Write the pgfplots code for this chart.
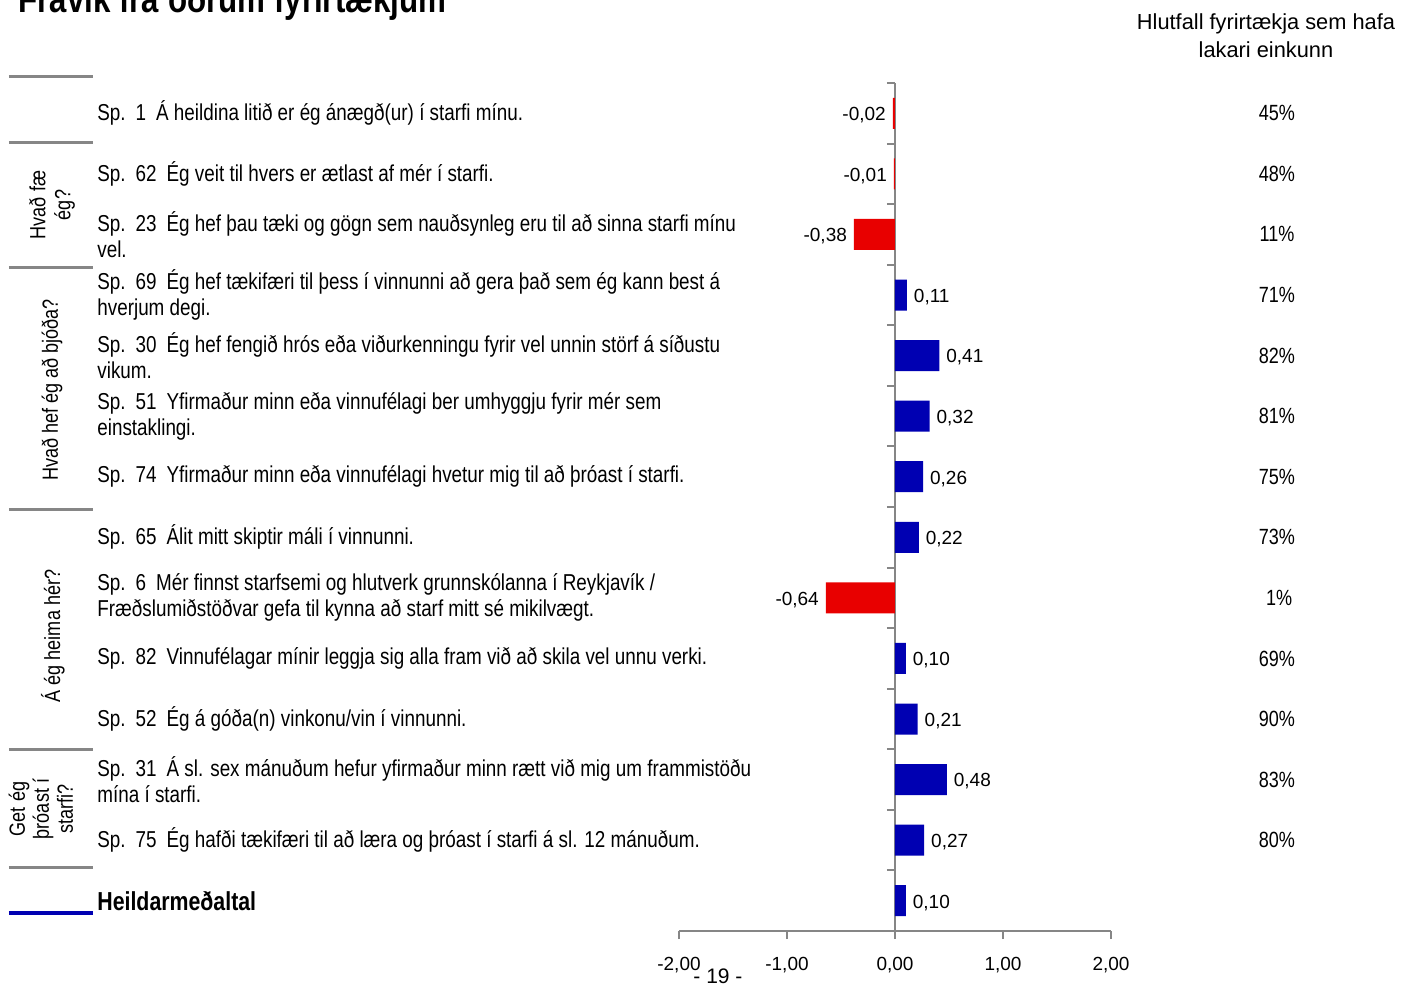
\documentclass[border=0pt]{standalone}
\usepackage{pgfplots}
\pgfplotsset{compat=1.18}
\usepackage{fontspec}
\setmainfont{Liberation Sans}
\newfontfamily\nrw[FakeStretch=0.82]{Liberation Sans}
\definecolor{barred}{RGB}{232,0,0}
\definecolor{barblue}{RGB}{0,0,178}
\definecolor{linegray}{RGB}{134,134,134}
\newcommand{\g}{\hspace{5pt}}
\newcommand{\rowfont}{\nrw\fontsize{11.5}{13}\selectfont}

\begin{document}
\begin{tikzpicture}
\begin{axis}[
  scale only axis, width=216pt, height=424pt,
  xmin=-2, xmax=2, ymin=-0.5, ymax=13.5, y dir=reverse,
  clip=false,
  axis x line*=bottom, axis y line*=center,
  hide obscured x ticks=false, hide obscured y ticks=false,
  axis line style={draw=linegray, line width=1pt},
  tick style={draw=linegray, line width=1pt},
  tick align=outside,
  major tick length=4pt,
  xtick={-2,-1,0,1,2},
  ytick={-0.5,0.5,...,13.5},
  yticklabels={},
  xticklabel style={font=\fontsize{9.5}{11}\selectfont, yshift=-5.5pt},
  /pgf/number format/use comma,
  /pgf/number format/fixed,
  /pgf/number format/fixed zerofill,
  /pgf/number format/precision=2,
  /pgf/number format/assume math mode=true,
]
% negative deviations
\addplot[xbar, bar width=15.5pt, bar shift=0pt, fill=barred, draw=none,
  point meta=x, nodes near coords,
  every node near coord/.append style={anchor=east, yshift=-1pt, font=\fontsize{9.5}{11}\selectfont}]
  coordinates {(-0.02,0) (-0.01,1) (-0.38,2) (-0.64,8)};
% positive deviations
\addplot[xbar, bar width=15.5pt, bar shift=0pt, fill=barblue, draw=none,
  point meta=x, nodes near coords,
  every node near coord/.append style={anchor=west, yshift=-1pt, font=\fontsize{9.5}{11}\selectfont}]
  coordinates {(0.11,3) (0.41,4) (0.32,5) (0.26,6) (0.22,7) (0.10,9) (0.21,10) (0.48,11) (0.27,12) (0.10,13)};
% share of companies with a lower score
\addplot[draw=none, mark=none, point meta=explicit symbolic, nodes near coords,
  every node near coord/.append style={anchor=center, font=\nrw\fontsize{11}{13}\selectfont}]
  coordinates {(3.537,0) [45\%] (3.537,1) [48\%] (3.537,2) [11\%] (3.537,3) [71\%]
    (3.537,4) [82\%] (3.537,5) [81\%] (3.537,6) [75\%] (3.537,7) [73\%]
    (3.556,8) [1\%] (3.537,9) [69\%] (3.537,10) [90\%] (3.537,11) [83\%] (3.537,12) [80\%]};
% question texts
\addplot[draw=none, mark=none, point meta=explicit symbolic, nodes near coords,
  every node near coord/.append style={anchor=west, align=left, inner sep=0pt, font=\rowfont}]
  coordinates {
  (-7.389,0) [{Sp.\g 1\g Á heildina litið er ég ánægð(ur) í starfi mínu.}]
  (-7.389,1) [{Sp.\g 62\g Ég veit til hvers er ætlast af mér í starfi.}]
  (-7.389,2) [{Sp.\g 23\g Ég hef þau tæki og gögn sem nauðsynleg eru til að sinna starfi mínu\\vel.}]
  (-7.389,3) [{Sp.\g 69\g Ég hef tækifæri til þess í vinnunni að gera það sem ég kann best á\\hverjum degi.}]
  (-7.389,4) [{Sp.\g 30\g Ég hef fengið hrós eða viðurkenningu fyrir vel unnin störf á síðustu\\vikum.}]
  (-7.389,5) [{Sp.\g 51\g Yfirmaður minn eða vinnufélagi ber umhyggju fyrir mér sem\\einstaklingi.}]
  (-7.389,6) [{Sp.\g 74\g Yfirmaður minn eða vinnufélagi hvetur mig til að þróast í starfi.}]
  (-7.389,7) [{Sp.\g 65\g Álit mitt skiptir máli í vinnunni.}]
  (-7.389,8) [{Sp.\g 6\g Mér finnst starfsemi og hlutverk grunnskólanna í Reykjavík /\\Fræðslumiðstöðvar gefa til kynna að starf mitt sé mikilvægt.}]
  (-7.389,9) [{Sp.\g 82\g Vinnufélagar mínir leggja sig alla fram við að skila vel unnu verki.}]
  (-7.389,10) [{Sp.\g 52\g Ég á góða(n) vinkonu/vin í vinnunni.}]
  (-7.389,11) [{Sp.\g 31\g Á sl. sex mánuðum hefur yfirmaður minn rætt við mig um frammistöðu\\mína í starfi.}]
  (-7.389,12) [{Sp.\g 75\g Ég hafði tækifæri til að læra og þróast í starfi á sl. 12 mánuðum.}]
  (-7.389,13) [{\bfseries\fontsize{13}{15}\selectfont Heildarmeðaltal}]
  };
\coordinate (O) at (axis cs:-2,13.5);
\end{axis}

% page frame and annotations, in reference pixels (y measured from the bottom)
\begin{scope}[shift={(O)}]
\begin{scope}[x=0.5pt, y=0.5pt, shift={(-679,-54)}]
\path[use as bounding box] (0,0) rectangle (1410,985);
\node[anchor=base west, inner sep=0, font=\nrw\bfseries\fontsize{19.1}{22}\selectfont] at (18,972) {Frávik frá öðrum fyrirtækjum};
\node[align=center, font=\fontsize{10.9}{14}\selectfont] at (1266,949) {Hlutfall fyrirtækja sem hafa\\lakari einkunn};
\foreach \yy in {908,842,717,475,235,117}
  \draw[linegray, line width=1.5pt] (9,\yy) -- (93,\yy);
\draw[barblue, line width=2pt] (9,72) -- (93,72);
\node[rotate=90, align=center, font=\nrw\fontsize{11}{12.5}\selectfont] at (52,780) {Hvað fæ\\ég?};
\node[rotate=90, font=\nrw\fontsize{11}{12.5}\selectfont] at (52,595) {Hvað hef ég að bjóða?};
\node[rotate=90, font=\nrw\fontsize{11}{12.5}\selectfont] at (53,349) {Á ég heima hér?};
\node[rotate=90, align=center, font=\nrw\fontsize{11}{12}\selectfont] at (41,176) {Get ég\\þróast í\\starfi?};
\node[font=\fontsize{10.5}{12}\selectfont] at (718,9) {- 19 -};
\end{scope}
\end{scope}
\end{tikzpicture}
\end{document}
